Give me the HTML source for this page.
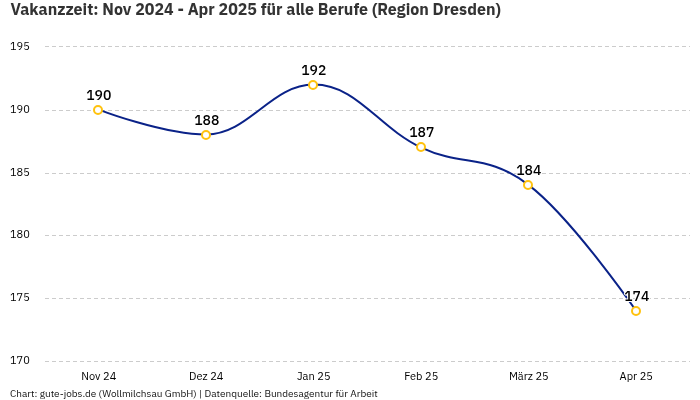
<!DOCTYPE html>
<html lang="de"><head><meta charset="utf-8"><title>Vakanzzeit</title>
<style>
html,body{margin:0;padding:0;background:#fff;}
body{width:700px;height:400px;overflow:hidden;}
svg{display:block;will-change:transform;font-family:"IBM Plex Sans", "Liberation Sans", sans-serif;}
.t{font-size:16px;font-weight:700;fill:#333;}
.yl{font-size:11px;fill:#000;}
.xl{font-size:11px;fill:#000;text-anchor:middle;}
.dl{font-size:14px;font-weight:500;fill:#000;text-anchor:middle;paint-order:stroke;stroke:#fff;stroke-width:2px;stroke-linejoin:round;}
.ft{font-size:10px;fill:#111;}
</style></head><body>
<svg width="700" height="400" viewBox="0 0 700 400">
<text class="t" x="10.5" y="14.6">Vakanzzeit: Nov 2024 - Apr 2025 für alle Berufe (Region Dresden)</text>
<line x1="45" y1="46.5" x2="690" y2="46.5" stroke="#ccc" stroke-width="1" stroke-dasharray="4 3"/>
<text class="yl" x="10" y="50.2">195</text>
<line x1="45" y1="110.5" x2="690" y2="110.5" stroke="#ccc" stroke-width="1" stroke-dasharray="4 3"/>
<text class="yl" x="10" y="113.2">190</text>
<line x1="45" y1="173.5" x2="690" y2="173.5" stroke="#ccc" stroke-width="1" stroke-dasharray="4 3"/>
<text class="yl" x="10" y="176.2">185</text>
<line x1="45" y1="235.5" x2="690" y2="235.5" stroke="#ccc" stroke-width="1" stroke-dasharray="4 3"/>
<text class="yl" x="10" y="238.2">180</text>
<line x1="45" y1="298.5" x2="690" y2="298.5" stroke="#ccc" stroke-width="1" stroke-dasharray="4 3"/>
<text class="yl" x="10" y="301.2">175</text>
<line x1="45" y1="361.5" x2="690" y2="361.5" stroke="#ccc" stroke-width="1" stroke-dasharray="4 3"/>
<text class="yl" x="10" y="364.2">170</text>
<text class="xl" x="98.75" y="380.1">Nov 24</text>
<text class="xl" x="206.25" y="380.1">Dez 24</text>
<text class="xl" x="313.75" y="380.1">Jan 25</text>
<text class="xl" x="421.25" y="380.1">Feb 25</text>
<text class="xl" x="528.75" y="380.1">März 25</text>
<text class="xl" x="636.25" y="380.1">Apr 25</text>
<path d="M98.75,109.60 C98.75,109.60 163.25,134.50 206.25,134.50 C249.25,134.50 270.75,84.60 313.75,84.60 C356.75,84.60 378.25,127.50 421.25,147.60 C464.25,167.70 485.75,152.42 528.75,185.10 C571.75,217.78 636.25,311.00 636.25,311.00" fill="none" stroke="#0a2288" stroke-width="2" stroke-linejoin="round"/>
<circle cx="98" cy="110.00" r="4" fill="#fff" stroke="#FFC20E" stroke-width="2"/>
<circle cx="206" cy="135.00" r="4" fill="#fff" stroke="#FFC20E" stroke-width="2"/>
<circle cx="313" cy="85.00" r="4" fill="#fff" stroke="#FFC20E" stroke-width="2"/>
<circle cx="421" cy="147.00" r="4" fill="#fff" stroke="#FFC20E" stroke-width="2"/>
<circle cx="528" cy="185.00" r="4" fill="#fff" stroke="#FFC20E" stroke-width="2"/>
<circle cx="636" cy="311.00" r="4" fill="#fff" stroke="#FFC20E" stroke-width="2"/>
<text class="dl" x="98.75" y="99.50">190</text>
<text class="dl" x="206.75" y="124.50">188</text>
<text class="dl" x="313.75" y="74.50">192</text>
<text class="dl" x="421.75" y="136.50">187</text>
<text class="dl" x="528.75" y="174.50">184</text>
<text class="dl" x="636.75" y="300.50">174</text>
<text class="ft" x="10" y="396.9">Chart: gute-jobs.de (Wollmilchsau GmbH) | Datenquelle: Bundesagentur für Arbeit</text>
</svg>
</body></html>
